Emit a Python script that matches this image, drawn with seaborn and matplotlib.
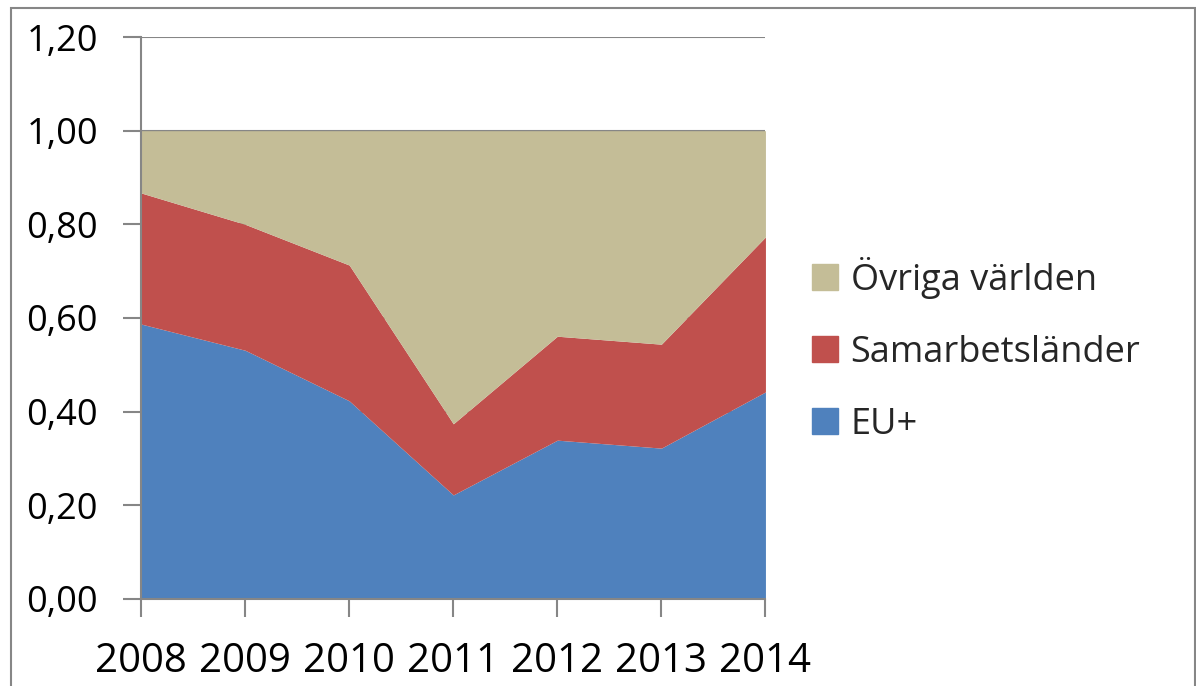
import matplotlib
matplotlib.use('Agg')
import matplotlib.pyplot as plt
import seaborn as sns
from matplotlib.patches import Rectangle
from matplotlib.lines import Line2D

# Data (shares, stacked)
years = [2008, 2009, 2010, 2011, 2012, 2013, 2014]
eu_plus = [0.587, 0.531, 0.423, 0.222, 0.339, 0.322, 0.442]
samarbetslander = [0.280, 0.269, 0.290, 0.152, 0.222, 0.222, 0.331]
ovriga_varlden = [0.133, 0.200, 0.287, 0.626, 0.439, 0.456, 0.227]

labels = ['EU+', 'Samarbetsländer', 'Övriga världen']
colors = ['#4f81bd', '#c0504d', '#c4bd97']

sns.set_style("white")
plt.rcParams['font.family'] = ['Open Sans', 'DejaVu Sans']

fig = plt.figure(figsize=(11.96, 6.86), dpi=100)
ax = fig.add_axes([0.118, 0.127, 0.522, 0.819])

ax.stackplot(years, eu_plus, samarbetslander, ovriga_varlden,
             colors=colors, labels=labels, linewidth=0, zorder=2)

ax.set_xlim(2008, 2014)
ax.set_ylim(0, 1.2)
ax.set_yticks([0, 0.2, 0.4, 0.6, 0.8, 1.0, 1.2])
ax.set_yticklabels([f'{v:.2f}'.replace('.', ',') for v in ax.get_yticks()], fontsize=26)
ax.set_xticks(years)
ax.set_xticklabels([str(y) for y in years], fontsize=29)
ax.tick_params(axis='y', length=13, width=1.5, color='#868686', pad=18,
               left=True, labelcolor='black')
ax.tick_params(axis='x', length=13, width=1.5, color='#868686', pad=18,
               bottom=True, labelcolor='black')

ax.yaxis.grid(True, color='#868686', linewidth=1.5, zorder=0)
ax.set_axisbelow(True)
for side in ['top', 'right']:
    ax.spines[side].set_visible(False)
for side in ['left', 'bottom']:
    ax.spines[side].set_color('#868686')
    ax.spines[side].set_linewidth(1.5)

handles = [Line2D([0], [0], marker='s', linestyle='', markersize=19,
                  markerfacecolor=c, markeredgecolor=c) for c in colors]
ax.legend(handles[::-1], labels[::-1], loc='center left',
          bbox_to_anchor=(1.015, 0.443), frameon=False, fontsize=26,
          handletextpad=0.2, labelspacing=1.0, handlelength=1.0)

# Outer border around the figure
fig.patches.append(Rectangle((0.009, -0.01), 0.99, 0.998, transform=fig.transFigure,
                             fill=False, edgecolor='#868686', linewidth=1.5))

fig.savefig('out.png', dpi=100)
